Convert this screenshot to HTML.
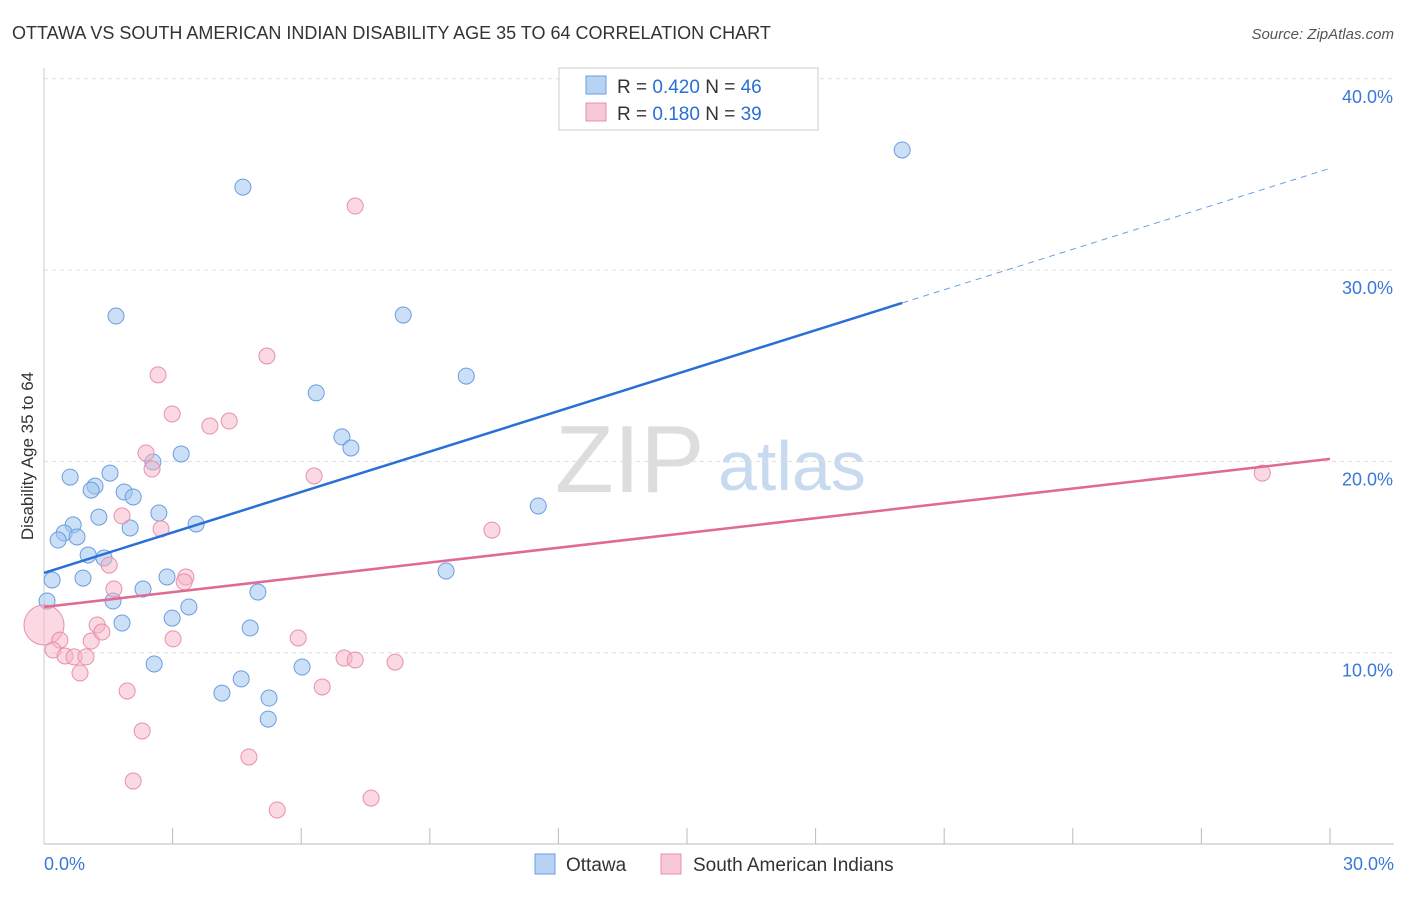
<!DOCTYPE html>
<html><head><meta charset="utf-8"><style>
body{margin:0;background:#fff;font-family:"Liberation Sans",sans-serif;}
svg text{font-family:"Liberation Sans",sans-serif;}
</style></head><body>
<svg id="c" width="1406" height="892">
<text x="12" y="39" font-size="18" fill="#333">OTTAWA VS SOUTH AMERICAN INDIAN DISABILITY AGE 35 TO 64 CORRELATION CHART</text>
<text x="1394" y="39" font-size="15" fill="#555" font-style="italic" text-anchor="end">Source: ZipAtlas.com</text>
<text transform="translate(33,456) rotate(-90)" font-size="17" fill="#333" text-anchor="middle">Disability Age 35 to 64</text>
<text x="555" y="492" font-size="96" fill="#ddd" font-family="Liberation Serif">ZIP</text>
<text x="718" y="490" font-size="70" fill="#c8daf0">atlas</text>
<g id="grid"></g><g id="marks"></g>
<g>
<rect x="559" y="68" width="259" height="62" fill="#fff" stroke="#ccc"/>
<rect x="586" y="76" width="20" height="18" fill="#b8d2f4" stroke="#6a9ee0"/>
<text x="617" y="93" font-size="19" fill="#333">R = <tspan fill="#2a6fd6">0.420</tspan>   N = <tspan fill="#2a6fd6">46</tspan></text>
<rect x="586" y="103" width="20" height="18" fill="#f8c8d6" stroke="#e890a8"/>
<text x="617" y="120" font-size="19" fill="#333">R =  <tspan fill="#2a6fd6">0.180</tspan>   N = <tspan fill="#2a6fd6">39</tspan></text>
</g>
<g>
<rect x="535" y="854" width="20" height="20" fill="#b8d2f4" stroke="#6a9ee0"/>
<text x="566" y="871" font-size="19" fill="#333">Ottawa</text>
<rect x="661" y="854" width="20" height="20" fill="#f8c8d6" stroke="#e890a8"/>
<text x="693" y="871" font-size="19" fill="#333">South American Indians</text>
</g>
</svg>
<script>
const blueX=[20.02,4.64,1.68,8.38,9.85,6.35,6.95,7.16,3.2,2.54,0.61,1.54,1.19,1.1,1.87,2.08,11.53,2.68,1.28,3.55,0.68,2.01,0.47,0.77,0.33,1.03,1.4,9.38,0.91,2.87,0.19,2.31,4.99,1.61,0.07,3.38,2.99,1.82,4.81,6.02,2.57,4.6,4.15,5.25,5.23];
const blueY=[36.28,34.34,27.6,27.65,24.46,23.58,21.28,20.7,20.39,19.97,19.18,19.39,18.71,18.5,18.4,18.14,17.67,17.3,17.09,16.73,16.68,16.52,16.26,16.05,15.89,15.11,14.95,14.27,13.9,13.96,13.8,13.33,13.17,12.7,12.7,12.39,11.81,11.55,11.29,9.25,9.41,8.63,7.89,7.63,6.53];
const pinkX=[7.26,5.2,2.66,2.99,4.32,3.87,2.38,2.52,6.3,1.82,2.73,10.45,1.52,1.63,3.31,3.27,28.42,0,0.37,1.1,1.24,1.35,3.01,5.93,0.21,0.49,0.7,0.98,7.0,7.26,8.19,0.84,6.49,1.94,2.29,4.78,2.08,5.44,7.63];
const pinkY=[33.35,25.51,24.52,22.48,22.11,21.85,20.44,19.6,19.24,17.15,16.47,16.41,14.58,13.33,13.96,13.7,19.39,11.45,10.66,10.61,11.45,11.08,10.72,10.77,10.14,9.83,9.78,9.78,9.72,9.62,9.51,8.94,8.21,8.0,5.91,4.55,3.29,1.78,2.4];
const blueTrend=[14.17,0.705];const blueSolidEnd=20.02;
const pinkTrend=[12.39,0.258];
const yTicks=[10,20,30,40];const yTickLabels=["10.0%","20.0%","30.0%","40.0%"];
const xTickLabels=["0.0%","30.0%"];
const NS="http://www.w3.org/2000/svg";
const sx=v=>44+v/30*1286, sy=v=>844-v*19.13;
function mk(t,a,p){const e=document.createElementNS(NS,t);for(const k in a)e.setAttribute(k,a[k]);p.appendChild(e);return e;}
const G=document.getElementById('grid'),M=document.getElementById('marks');
yTicks.forEach((t,i)=>{const l=mk('line',{x1:44,x2:1394,y1:sy(t),y2:sy(t),stroke:'#ddd','stroke-dasharray':'4,4'},G);


const tx=mk('text',{x:1393,y:sy(t)+24,'font-size':18,fill:'#3a78d8','text-anchor':'end'},G);tx.textContent=yTickLabels[i];

});
const ax=mk('line',{x1:44,x2:1394,y1:844,y2:844,stroke:'#bbb'},G);


const ay=mk('line',{x1:44,x2:44,y1:68,y2:844,stroke:'#ccc'},G);


for(let i=1;i<=10;i++){const t=mk('line',{x1:sx(i*3),x2:sx(i*3),y1:828,y2:844,stroke:'#bbb'},G);

}
[[0,'start',44],[30,'end',1394]].forEach((d,i)=>{const tx=mk('text',{x:d[2],y:870,'font-size':18,fill:'#3a78d8','text-anchor':d[1]},G);tx.textContent=xTickLabels[i];

});
blueX.forEach((x,i)=>{const c=mk('circle',{cx:sx(x),cy:sy(blueY[i]),r:8,fill:'rgba(160,196,240,0.55)',stroke:'#6a9ee0','stroke-width':1},M);

});
pinkX.forEach((x,i)=>{const c=mk('circle',{cx:sx(x),cy:sy(pinkY[i]),r:i==17?20:8,fill:'rgba(245,180,200,0.5)',stroke:'#e890a8','stroke-width':1},M);

});
const bl=mk('line',{x1:sx(0),y1:sy(blueTrend[0]),x2:sx(blueSolidEnd),y2:sy(blueTrend[0]+blueTrend[1]*blueSolidEnd),stroke:'#2a6fd6','stroke-width':2.5},M);


const bd=mk('line',{x1:sx(blueSolidEnd),y1:sy(blueTrend[0]+blueTrend[1]*blueSolidEnd),x2:sx(30),y2:sy(blueTrend[0]+blueTrend[1]*30),stroke:'#6a9ee0','stroke-width':1,'stroke-dasharray':'6,5'},M);


const pl=mk('line',{x1:sx(0),y1:sy(pinkTrend[0]),x2:sx(30),y2:sy(pinkTrend[0]+pinkTrend[1]*30),stroke:'#e06a94','stroke-width':2.5},M);


</script>
</body></html>
